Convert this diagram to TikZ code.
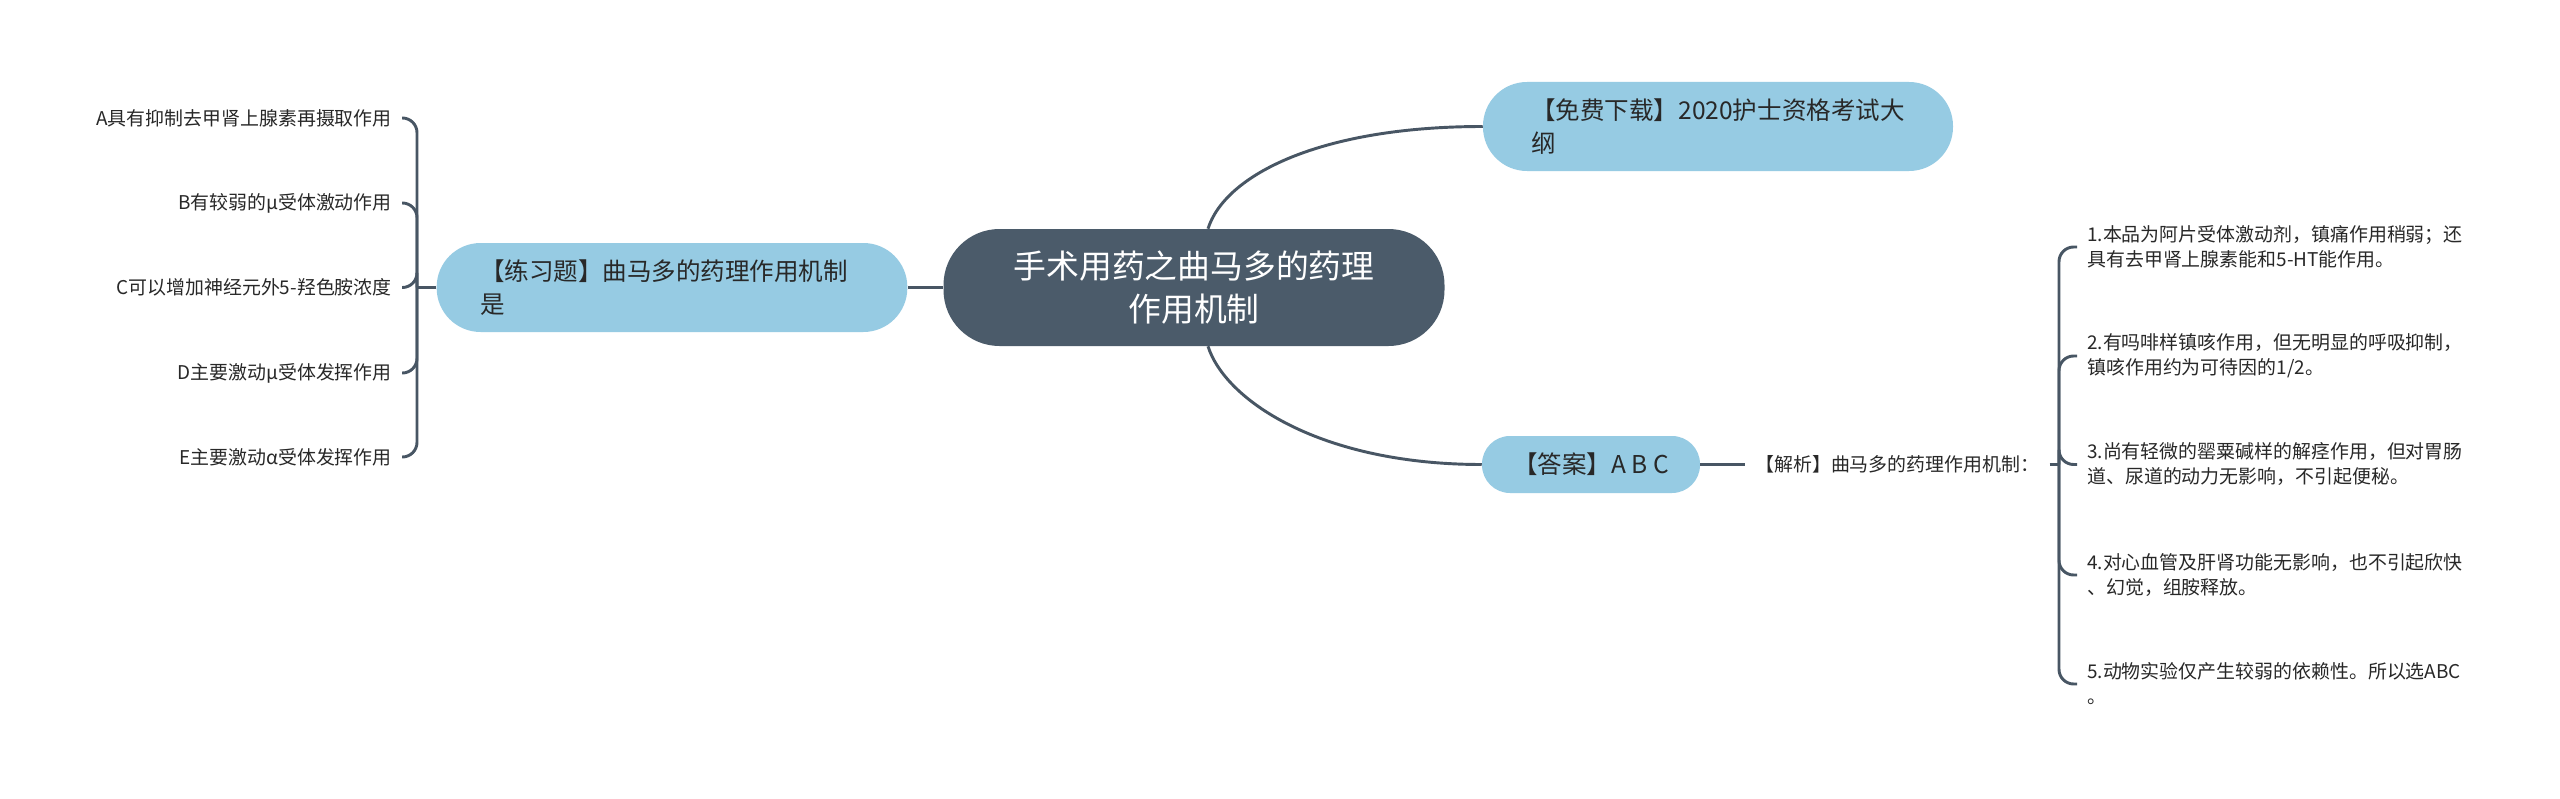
\documentclass[tikz,border=0pt]{standalone}
\usepackage{fontspec}
\setmainfont{Noto Sans CJK SC}
\definecolor{mapSlate}{RGB}{75,91,106}
\definecolor{mapLine}{RGB}{72,86,100}
\definecolor{mapBlue}{RGB}{150,203,227}
\definecolor{mapText}{RGB}{40,40,40}

\begin{document}
\begin{tikzpicture}[x=0.75pt, y=-0.75pt,
   root/.style={fill=mapSlate, text=white, rounded corners=42pt, align=center,
               minimum width=375.75pt, minimum height=87.75pt,
               font=\fontsize{24.6}{32}\selectfont},
   topic/.style={fill=mapBlue, text=mapText, rounded corners=33pt, align=left,
               minimum height=66.75pt, font=\fontsize{18.4}{24.75}\selectfont},
   leaf/.style={text=mapText, inner xsep=7.5pt, inner ysep=2pt, align=left,
               font=\fontsize{14.2}{18.75}\selectfont},
   link/.style={draw=mapLine, line width=2.2pt},
   brace/.style={link, rounded corners=11pt}]

  \path[use as bounding box, fill=white] (0,0) rectangle (2560,799);

  % ===== centre =====
  \node[root] (root) at (1194,287.5) {手术用药之曲马多的药理\\作用机制};

  % ===== branche gauche : exercice =====
  \node[topic, text width=288pt, minimum width=353pt] (practice) at (672,287.5)
        {【练习题】曲马多的药理作用机制\\是};
  \coordinate (lj) at (417,287.5);
  \node[leaf, anchor=east] (optA) at (402,118) {A具有抑制去甲肾上腺素再摄取作用};
  \node[leaf, anchor=east] (optB) at (402,203) {B有较弱的μ受体激动作用};
  \node[leaf, anchor=east] (optC) at (402,287.5) {C可以增加神经元外5-羟色胺浓度};
  \node[leaf, anchor=east] (optD) at (402,373) {D主要激动μ受体发挥作用};
  \node[leaf, anchor=east] (optE) at (402,457) {E主要激动α受体发挥作用};

  % ===== branches droites =====
  \node[topic, minimum width=352.5pt] (download) at (1718,126.5)
        {【免费下载】2020护士资格考试大\\纲};
  \node[topic, rounded corners=21pt, minimum width=163.5pt, minimum height=42.75pt]
        (answer) at (1591,464.5) {【答案】A B C};
  \node[leaf, anchor=west] (analysis) at (1745,464.5) {【解析】曲马多的药理作用机制：};
  \coordinate (rj) at (2059,464.5);
  \node[leaf, anchor=west] (why1) at (2077,247)
        {1.本品为阿片受体激动剂，镇痛作用稍弱；还\\具有去甲肾上腺素能和5-HT能作用。};
  \node[leaf, anchor=west] (why2) at (2077,356)
        {2.有吗啡样镇咳作用，但无明显的呼吸抑制，\\镇咳作用约为可待因的1/2。};
  \node[leaf, anchor=west] (why3) at (2077,464.5)
        {3.尚有轻微的罂粟碱样的解痉作用，但对胃肠\\道、尿道的动力无影响，不引起便秘。};
  \node[leaf, anchor=west] (why4) at (2077,575)
        {4.对心血管及肝肾功能无影响，也不引起欣快\\、幻觉，组胺释放。};
  \node[leaf, anchor=west] (why5) at (2077,684)
        {5.动物实验仅产生较弱的依赖性。所以选ABC\\。};

  % ===== liens =====
  \draw[link] (root.west) -- (practice.east);
  \draw[link] ([xshift=10.5pt]root.north) .. controls (1225,175) and (1320,126.5) .. (download.west);
  \draw[link] ([xshift=10.5pt]root.south) .. controls (1225,400) and (1320,464.5) .. (answer.west);
  \draw[link] (answer.east) -- (analysis.west);
  \draw[link] (analysis.east) -- (rj);
  \foreach \i in {1,...,5} \draw[brace] (rj) |- (why\i.west);
  \draw[link] (practice.west) -- (lj);
  \foreach \o in {A,B,C,D,E} \draw[brace] (lj) |- (opt\o.east);

\end{tikzpicture}
\end{document}
